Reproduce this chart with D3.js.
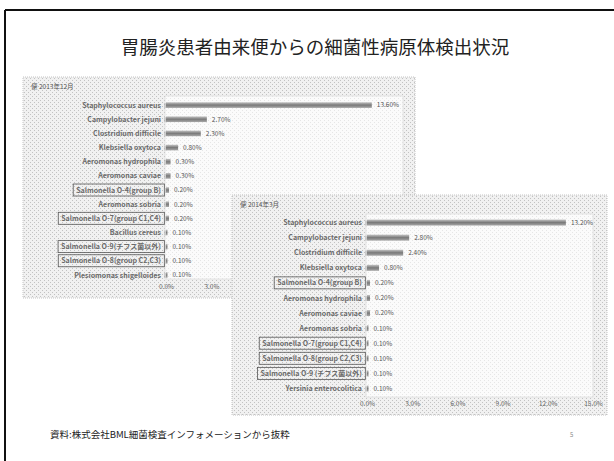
<!DOCTYPE html>
<html>
<head>
<meta charset="utf-8">
<script src="https://cdn.jsdelivr.net/npm/d3@7/dist/d3.min.js"></script>
<style>
  body { margin: 0; background: #fff; }
  svg { display: block; }
</style>
</head>
<body>
<svg id="slide" width="614" height="461"></svg>
<script>
// data
var title = "胃腸炎患者由来便からの細菌性病原体検出状況";
var footer = "資料:株式会社BML細菌検査インフォメーションから抜粋";

var period1 = "便  2013年12月";
var cats1 = ["Staphylococcus aureus", "Campylobacter jejuni", "Clostridium  difficile",
  "Klebsiella oxytoca", "Aeromonas hydrophila", "Aeromonas caviae",
  "Salmonella O-4(group B)", "Aeromonas sobria", "Salmonella O-7(group C1,C4)",
  "Bacillus cereus", "Salmonella O-9(チフス菌以外)", "Salmonella O-8(group C2,C3)",
  "Plesiomonas shigelloides"];
var vals1 = [13.6, 2.7, 2.3, 0.8, 0.3, 0.3, 0.2, 0.2, 0.2, 0.1, 0.1, 0.1, 0.1];
var ticks1 = [0, 3]; // the rest sit under the second chart

var period2 = "便  2014年3月";
var cats2 = ["Staphylococcus aureus", "Campylobacter jejuni", "Clostridium  difficile",
  "Klebsiella oxytoca", "Salmonella O-4(group B)", "Aeromonas hydrophila",
  "Aeromonas caviae", "Aeromonas sobria", "Salmonella O-7(group C1,C4)",
  "Salmonella O-8(group C2,C3)", "Salmonella O-9 (チフス菌以外)", "Yersinia enterocolitica"];
var vals2 = [13.2, 2.8, 2.4, 0.8, 0.2, 0.2, 0.2, 0.1, 0.1, 0.1, 0.1, 0.1];
var ticks2 = [0, 3, 6, 9, 12, 15];

var svg = d3.select("#slide");
var font = "'Noto Sans CJK JP', 'Noto Sans', sans-serif";

// textures for the scanned look
var defs = svg.append("defs");
function stipple(id, base, dot) {
  var p = defs.append("pattern").attr("id", id)
    .attr("width", 4).attr("height", 4).attr("patternUnits", "userSpaceOnUse");
  p.append("rect").attr("width", 4).attr("height", 4).attr("fill", base);
  [[0, 0], [2, 2]].forEach(function(d) {
    p.append("rect").attr("x", d[0]).attr("y", d[1]).attr("width", 1).attr("height", 1).attr("fill", dot);
  });
}
stipple("panelTex", "#f1f1f1", "#c2c2c2");
stipple("plotTex", "#fbfbfb", "#e6e6e6");
var grad = defs.append("linearGradient").attr("id", "barGrad")
  .attr("x1", 0).attr("x2", 0).attr("y1", 0).attr("y2", 1);
grad.append("stop").attr("offset", "0%").attr("stop-color", "#c4c4c4");
grad.append("stop").attr("offset", "50%").attr("stop-color", "#7a7a7a");
grad.append("stop").attr("offset", "100%").attr("stop-color", "#a8a8a8");

// slide frame
svg.append("line").attr("x1", 5).attr("x2", 614).attr("y1", 10).attr("y2", 10)
  .attr("stroke", "#111").attr("stroke-width", 2);
svg.append("line").attr("x1", 5).attr("x2", 5).attr("y1", 10).attr("y2", 461)
  .attr("stroke", "#111").attr("stroke-width", 2);

svg.append("text")
  .attr("x", 315).attr("y", 54)
  .attr("text-anchor", "middle")
  .style("font-family", font)
  .style("font-size", "18.5px")
  .attr("fill", "#222")
  .text(title);

function panel(opt) {
  var g = svg.append("g");

  g.append("rect")
    .attr("x", opt.box[0]).attr("y", opt.box[1])
    .attr("width", opt.box[2]).attr("height", opt.box[3])
    .attr("fill", "url(#panelTex)")
    .attr("stroke", "#c4c4c4").attr("stroke-dasharray", "1,1");

  g.append("rect")
    .attr("x", opt.plot[0]).attr("y", opt.plot[1])
    .attr("width", opt.plot[2]).attr("height", opt.plot[3])
    .attr("fill", "url(#plotTex)")
    .attr("stroke", "#d6d6d6").attr("stroke-width", 0.6);

  g.append("text")
    .attr("x", opt.box[0] + 8).attr("y", opt.box[1] + 12)
    .style("font-family", font).style("font-size", "6.5px")
    .attr("fill", "#555")
    .text(opt.period);

  var x = d3.scaleLinear().domain([0, 15]).range(opt.xr);
  var y = d3.scaleBand().domain(opt.cats).range(opt.yr).paddingInner(0.6).paddingOuter(0.3);
  var half = y.bandwidth() / 2;

  var row = g.selectAll(".row").data(opt.cats).enter().append("g")
    .attr("class", "row");

  row.append("rect")
    .attr("x", x(0))
    .attr("y", function(d) { return y(d); })
    .attr("width", function(d, i) { return x(opt.vals[i]) - x(0); })
    .attr("height", y.bandwidth())
    .attr("fill", "url(#barGrad)");

  row.append("text")
    .attr("x", function(d, i) { return x(opt.vals[i]) + 5; })
    .attr("y", function(d) { return y(d) + half + 2.4; })
    .style("font-family", font).style("font-size", "6.5px")
    .attr("fill", "#555")
    .text(function(d, i) { return opt.vals[i].toFixed(2) + "%"; });

  var lab = row.append("text")
    .attr("x", x(0) - 5)
    .attr("y", function(d) { return y(d) + half + 2.6; })
    .attr("text-anchor", "end")
    .style("font-family", font).style("font-size", "7px").style("font-weight", "bold")
    .attr("fill", "#6a6a6a")
    .text(function(d) { return d; });

  // Salmonella serogroups are boxed on the slide
  lab.each(function(d) {
    if (d.indexOf("Salmonella") !== 0) return;
    var bb = this.getBBox();
    d3.select(this.parentNode).append("rect")
      .attr("x", bb.x - 3).attr("y", y(d) + half - 6)
      .attr("width", bb.width + 6).attr("height", 12)
      .attr("fill", "none").attr("stroke", "#555").attr("stroke-width", 0.8);
  });

  // small tick stubs left of the bars
  row.append("line")
    .attr("x1", x(0) - 1).attr("x2", x(0) - 1)
    .attr("y1", function(d) { return y(d) + half - 2; })
    .attr("y2", function(d) { return y(d) + half + 3; })
    .attr("stroke", "#999").attr("stroke-width", 0.8);

  var ax = g.append("g")
    .attr("transform", "translate(0," + opt.axisY + ")")
    .call(d3.axisBottom(x).tickValues(opt.ticks).tickSize(0)
      .tickFormat(function(d) { return d.toFixed(1) + "%"; }));
  ax.select(".domain").remove();
  ax.selectAll("text")
    .style("font-family", font).style("font-size", "6.5px")
    .attr("fill", "#666");
}

panel({
  box: [23, 77, 392, 221],
  plot: [165, 96, 238, 183],
  period: period1,
  cats: cats1, vals: vals1, ticks: ticks1,
  xr: [166, 393], yr: [98, 282],
  axisY: 281
});

panel({
  box: [232, 195, 375, 220],
  plot: [366, 214, 227, 183],
  period: period2,
  cats: cats2, vals: vals2, ticks: ticks2,
  xr: [367, 593], yr: [215, 396],
  axisY: 398
});

svg.append("text")
  .attr("x", 50).attr("y", 438)
  .style("font-family", font).style("font-size", "9.5px")
  .attr("fill", "#222")
  .text(footer);

svg.append("text")
  .attr("x", 570).attr("y", 437)
  .style("font-family", font).style("font-size", "6px")
  .attr("fill", "#888")
  .text("5");
</script>
</body>
</html>
